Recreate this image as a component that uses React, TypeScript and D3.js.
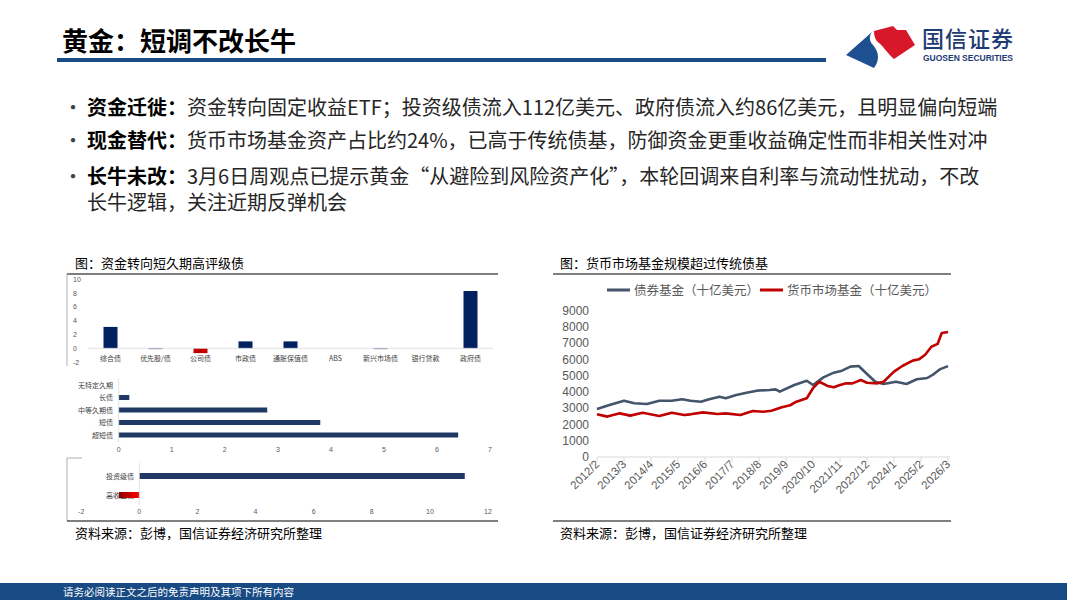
import * as React from 'react';
import * as d3 from 'd3';

const FONT_CN = '"Noto Sans CJK SC", "Noto Sans", sans-serif';
const FONT_NUM = '"Liberation Sans", Arial, "Noto Sans CJK SC", sans-serif';

// slide text
const pageTitle = '黄金：短调不改长牛';
const bulletLabels = ['资金迁徙：', '现金替代：', '长牛未改：'];
const bulletTexts = [
  ['资金转向固定收益ETF；投资级债流入112亿美元、政府债流入约86亿美元，且明显偏向短端'],
  ['货币市场基金资产占比约24%，已高于传统债基，防御资金更重收益确定性而非相关性对冲'],
  ['3月6日周观点已提示黄金“从避险到风险资产化”，本轮回调来自利率与流动性扰动，不改', '长牛逻辑，关注近期反弹机会'],
];

// left figure: flows by sector
const sectorNames = ['综合债', '优先股/债', '公司债', '市政债', '通胀保值债', 'ABS', '新兴市场债', '银行贷款', '政府债'];
const sectorFlows = [3.1, -0.1, -0.7, 1.0, 1.0, 0, -0.1, 0, 8.3];
const sectorTicks = [10, 8, 6, 4, 2, 0, -2];

// left figure: flows by duration
const durationNames = ['无特定久期', '长债', '中等久期债', '短债', '超短债'];
const durationFlows = [0, 0.2, 2.8, 3.8, 6.4];
const durationTicks = [0, 1, 2, 3, 4, 5, 6, 7];

// left figure: flows by credit
const creditNames = ['投资级债', '高收益债'];
const creditFlows = [11.2, -0.7];
const creditTicks = [-2, 0, 2, 4, 6, 8, 10, 12];

// right figure: fund assets (billion USD)
const bondFundDates = ['2012/2', '2012/8', '2013/3', '2013/8', '2014/2', '2014/8', '2015/2', '2015/7', '2015/11', '2016/4',
  '2016/8', '2017/1', '2017/4', '2017/9', '2018/2', '2018/7', '2019/1', '2019/4', '2019/6', '2020/1',
  '2020/7', '2020/10', '2021/3', '2021/8', '2021/12', '2022/4', '2022/8', '2022/12', '2023/4', '2023/8',
  '2024/2', '2024/7', '2024/12', '2025/5', '2025/8', '2025/11', '2026/3'];
const bondFundValues = [2960, 3200, 3470, 3310, 3270, 3470, 3470, 3560, 3470, 3410,
  3560, 3720, 3620, 3820, 3960, 4090, 4130, 4170, 4030, 4440,
  4700, 4440, 4910, 5200, 5320, 5570, 5610, 5120, 4640, 4500,
  4640, 4500, 4790, 4870, 5100, 5400, 5600];
const mmfDates = ['2012/2', '2012/7', '2013/1', '2013/6', '2013/12', '2014/8', '2015/2', '2015/8', '2015/11', '2016/5',
  '2016/12', '2017/4', '2017/11', '2018/5', '2018/10', '2019/2', '2019/7', '2019/11', '2020/2', '2020/7',
  '2020/10', '2021/1', '2021/5', '2021/8', '2021/11', '2022/2', '2022/5', '2022/9', '2022/12', '2023/5',
  '2023/8', '2024/1', '2024/5', '2024/10', '2025/1', '2025/4', '2025/7', '2025/10', '2025/12', '2026/3'];
const mmfValues = [2630, 2490, 2690, 2550, 2730, 2530, 2730, 2590, 2630, 2750,
  2650, 2690, 2590, 2840, 2790, 2850, 3060, 3190, 3410, 3620,
  4240, 4640, 4380, 4300, 4440, 4540, 4540, 4750, 4580, 4540,
  4640, 5260, 5610, 5940, 6020, 6300, 6800, 6970, 7640, 7700];
const dateLabels = ['2012/2', '2013/3', '2014/4', '2015/5', '2016/6', '2017/7', '2018/8', '2019/9', '2020/10',
  '2021/11', '2022/12', '2024/1', '2025/2', '2026/3'];
const fundTicks = [0, 1000, 2000, 3000, 4000, 5000, 6000, 7000, 8000, 9000];
const seriesNames = ['债券基金（十亿美元）', '货币市场基金（十亿美元）'];

const NAVY = '#002060';
const RED = '#c00000';
const GREY = '#595959';

// months since 2012/2
const monthIndex = (s: string) => {
  const [y, m] = s.split('/').map(Number);
  return (y - 2012) * 12 + (m - 2);
};

const Header = () => (
  <g>
    <text x={62} y={51} fontFamily={FONT_CN} fontSize={26} fontWeight={700} fill="#000">{pageTitle}</text>
    <rect x={57} y={58} width={769} height={4} fill="#184a84" />
    {/* logo */}
    <path d="M872,32 L846,55 L874,68 C880,60 879,52 873,45 C869,41 869,36 872,32 Z" fill="#1d4f91" />
    <path d="M874,31 L893,26 L897,30 L906,30 L915,45 L894,59 C887,53 884,47 879,43 C875,40 874,35 874,31 Z" fill="#d7182a" />
    <text x={922} y={47} fontFamily={FONT_CN} fontSize={22} fontWeight={500} fill="#1f3b73" textLength={91}>国信证券</text>
    <text x={923} y={61} fontFamily={FONT_NUM} fontSize={8.5} fontWeight={700} fill="#1f3b73" textLength={90}>GUOSEN SECURITIES</text>
  </g>
);

const Bullets = () => {
  const rows = [108, 141, 177];
  return (
    <g fontFamily={FONT_CN} fontSize={20} fill="#262626">
      {bulletLabels.map((label, i) => (
        <g key={label}>
          <text x={63} y={rows[i] + 7} fontSize={20} fill="#404040">•</text>
          <text x={87} y={rows[i] + 7}>
            <tspan fontWeight={700} fill="#000">{label}</tspan>
            <tspan>{bulletTexts[i][0]}</tspan>
          </text>
          {bulletTexts[i].slice(1).map((line, j) => (
            <text key={j} x={87} y={rows[i] + 7 + 26 * (j + 1)}>{line}</text>
          ))}
        </g>
      ))}
    </g>
  );
};

const LeftFigure = () => {
  // sector columns
  const x1 = d3.scalePoint<string>().domain(sectorNames).range([88, 493]).padding(0.5);
  const y1 = d3.scaleLinear().domain([-2, 10]).range([362.1, 279.3]);
  // duration bars
  const x2 = d3.scaleLinear().domain([0, 7]).range([118.7, 490]);
  const y2 = d3.scalePoint<string>().domain(durationNames).range([385, 435]);
  // credit bars
  const x3 = d3.scaleLinear().domain([-2, 12]).range([81.2, 488]);
  const y3 = d3.scalePoint<string>().domain(creditNames).range([476, 495]);

  return (
    <g fontFamily={FONT_CN}>
      <text x={75} y={268} fontSize={13} fill="#000">图：资金转向短久期高评级债</text>
      <line x1={67} x2={498} y1={274} y2={274} stroke="#000" strokeWidth={1.2} />
      <line x1={67} x2={67} y1={274} y2={366} stroke="#9a9a9a" strokeWidth={0.8} />

      {sectorTicks.map(t => (
        <text key={t} x={73} y={y1(t) + 2.5} fontSize={7} fill={GREY} fontFamily={FONT_NUM}>{t}</text>
      ))}
      {sectorNames.map((n, i) => {
        const v = sectorFlows[i];
        return (
          <rect key={n} x={x1(n)! - 7} width={14} y={Math.min(y1(v), y1(0))}
            height={Math.max(Math.abs(y1(v) - y1(0)), v === 0 ? 0 : 0.8)}
            fill={n === '公司债' ? RED : NAVY} />
        );
      })}
      <line x1={88} x2={493} y1={y1(0)} y2={y1(0)} stroke="#d9d9d9" strokeWidth={0.8} />
      {sectorNames.map(n => (
        <text key={n} x={x1(n)} y={361} fontSize={7} fill="#404040" textAnchor="middle">{n}</text>
      ))}

      {durationNames.map((n, i) => (
        <g key={n}>
          <text x={113} y={y2(n)! + 2.5} fontSize={7} fill="#404040" textAnchor="end">{n}</text>
          <rect x={x2(0)} y={y2(n)! - 2.5} width={x2(durationFlows[i]) - x2(0)} height={5} fill="#1f3864" />
        </g>
      ))}
      <line x1={x2(0)} x2={x2(0)} y1={379} y2={442} stroke="#d9d9d9" strokeWidth={0.8} />
      {durationTicks.map(t => (
        <text key={t} x={x2(t)} y={452} fontSize={7} fill={GREY} textAnchor="middle" fontFamily={FONT_NUM}>{t}</text>
      ))}

      <line x1={67} x2={82} y1={458} y2={458} stroke="#9a9a9a" strokeWidth={0.8} />
      <line x1={67} x2={67} y1={458} y2={521} stroke="#9a9a9a" strokeWidth={0.8} />
      <defs>
        <linearGradient id="hyGrad" x1="0" x2="1" y1="0" y2="0">
          <stop offset="0" stopColor="#8c0000" />
          <stop offset="1" stopColor="#ff0000" />
        </linearGradient>
      </defs>
      {creditNames.map((n, i) => {
        const v = creditFlows[i];
        return (
          <g key={n}>
            <text x={134} y={y3(n)! + 2.5} fontSize={7} fill="#404040" textAnchor="end">{n}</text>
            <rect x={Math.min(x3(v), x3(0))} y={y3(n)! - 3} width={Math.abs(x3(v) - x3(0))} height={6}
              fill={v < 0 ? 'url(#hyGrad)' : '#1f3864'} />
          </g>
        );
      })}
      <line x1={x3(0)} x2={x3(0)} y1={463} y2={505} stroke="#d9d9d9" strokeWidth={0.8} />
      {creditTicks.map(t => (
        <text key={t} x={x3(t)} y={514} fontSize={7} fill={GREY} textAnchor="middle" fontFamily={FONT_NUM}>{t}</text>
      ))}

      <line x1={67} x2={498} y1={521} y2={521} stroke="#000" strokeWidth={1.2} />
      <text x={75} y={538} fontSize={13} fill="#000">资料来源：彭博，国信证券经济研究所整理</text>
    </g>
  );
};

const RightFigure = () => {
  const x = d3.scaleLinear().domain([0, monthIndex('2026/3')]).range([597, 948]);
  const y = d3.scaleLinear().domain([0, 9000]).range([457, 311]);
  const line = d3.line<[number, number]>().x(d => x(d[0])).y(d => y(d[1]));
  const bond: [number, number][] = bondFundDates.map((d, i) => [monthIndex(d), bondFundValues[i]]);
  const mmf: [number, number][] = mmfDates.map((d, i) => [monthIndex(d), mmfValues[i]]);
  const colors = ['#44546a', RED];

  return (
    <g fontFamily={FONT_CN}>
      <text x={560} y={268} fontSize={13} fill="#000">图：货币市场基金规模超过传统债基</text>
      <line x1={553} x2={951} y1={274} y2={274} stroke="#000" strokeWidth={1.2} />

      {seriesNames.map((n, i) => {
        const lx = i === 0 ? 607 : 760;
        return (
          <g key={n}>
            <line x1={lx} x2={lx + 23} y1={290} y2={290} stroke={colors[i]} strokeWidth={3} />
            <text x={lx + 27} y={294.5} fontSize={12.5} fill={GREY}>{n}</text>
          </g>
        );
      })}

      {fundTicks.map(t => (
        <text key={t} x={589} y={y(t) + 4} fontSize={12} fill={GREY} textAnchor="end" fontFamily={FONT_NUM}>{t}</text>
      ))}
      <line x1={597} x2={950} y1={y(0)} y2={y(0)} stroke="#d9d9d9" strokeWidth={1} />
      {dateLabels.map(d => {
        const tx = x(monthIndex(d));
        return (
          <g key={d}>
            <line x1={tx} x2={tx} y1={y(0)} y2={y(0) + 5} stroke="#d9d9d9" strokeWidth={1} />
            <text transform={`translate(${tx + 3},${y(0) + 8}) rotate(-45)`} fontSize={11.5} fill={GREY}
              textAnchor="end" fontFamily={FONT_NUM}>{d}</text>
          </g>
        );
      })}

      <path d={line(bond)!} fill="none" stroke={colors[0]} strokeWidth={2.6} strokeLinejoin="round" />
      <path d={line(mmf)!} fill="none" stroke={colors[1]} strokeWidth={2.6} strokeLinejoin="round" />

      <line x1={553} x2={951} y1={521} y2={521} stroke="#000" strokeWidth={1.2} />
      <text x={560} y={538} fontSize={13} fill="#000">资料来源：彭博，国信证券经济研究所整理</text>
    </g>
  );
};

const App = () => (
  <svg width={1067} height={600} style={{ position: 'absolute', left: 0, top: 0, background: '#fff' }}>
    <rect width={1067} height={600} fill="#fff" />
    <Header />
    <Bullets />
    <LeftFigure />
    <RightFigure />
    <rect x={0} y={583} width={1067} height={17} fill="#184a84" />
    <text x={63} y={596} fontFamily={FONT_CN} fontSize={10.5} fill="#fff">请务必阅读正文之后的免责声明及其项下所有内容</text>
  </svg>
);

export default App;
